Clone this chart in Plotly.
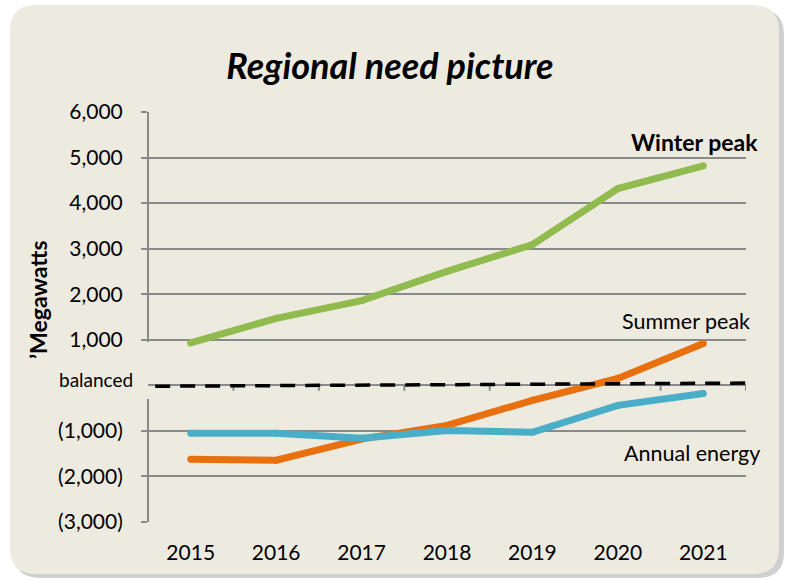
import plotly.graph_objects as go

years = ["2015", "2016", "2017", "2018", "2019", "2020", "2021"]
winter_peak = [930, 1470, 1860, 2500, 3090, 4320, 4820]
summer_peak = [-1620, -1645, -1180, -880, -330, 150, 920]
annual_energy = [-1050, -1050, -1160, -990, -1030, -440, -180]
y_tick_vals = [6000, 5000, 4000, 3000, 2000, 1000, -1000, -2000, -3000]
y_tick_text = ["6,000", "5,000", "4,000", "3,000", "2,000", "1,000",
               "(1,000)", "(2,000)", "(3,000)"]

W, H = 786, 580
L, R, T, B = 148, 40, 112, 58
PW, PH = W - L - R, H - T - B

def px(x, y):
    return (x - L) / PW, (H - B - y) / PH

def rounded_rect(x0, y0, x1, y1, r):
    a = px(x0 + r, y0); b = px(x1 - r, y0); c = px(x1, y0); d = px(x1, y0 + r)
    e = px(x1, y1 - r); f = px(x1, y1); g = px(x1 - r, y1); h = px(x0 + r, y1)
    i = px(x0, y1); j = px(x0, y1 - r); k = px(x0, y0 + r); l = px(x0, y0)
    return (f"M{a[0]},{a[1]} L{b[0]},{b[1]} Q{c[0]},{c[1]} {d[0]},{d[1]} "
            f"L{e[0]},{e[1]} Q{f[0]},{f[1]} {g[0]},{g[1]} L{h[0]},{h[1]} "
            f"Q{i[0]},{i[1]} {j[0]},{j[1]} L{k[0]},{k[1]} Q{l[0]},{l[1]} {a[0]},{a[1]} Z")

FONT = "Lato"
GRID = "#8a8a8a"

fig = go.Figure()
series = [
    ("Winter peak", winter_peak, "#92bb4f"),
    ("Summer peak", summer_peak, "#e8700f"),
    ("Annual energy", annual_energy, "#4aaec8"),
]
for name, vals, col in series:
    fig.add_trace(go.Scatter(
        x=years, y=vals, name=name, mode="lines+markers",
        line=dict(color=col, width=7),
        marker=dict(color=col, size=7, line=dict(width=0)),
        hoverinfo="x+y+name",
    ))

shapes = []
shapes.append(dict(type="path", xref="paper", yref="paper", layer="below",
                   path=rounded_rect(14, 9, 784, 578, 26),
                   fillcolor="rgba(120,120,120,0.35)", line=dict(width=0)))
shapes.append(dict(type="path", xref="paper", yref="paper", layer="below",
                   path=rounded_rect(10, 5, 779, 574, 26),
                   fillcolor="#edeae0", line=dict(width=0)))
shapes.append(dict(type="line", xref="paper", yref="y", x0=0, x1=0,
                   y0=6000, y1=950, line=dict(color=GRID, width=2), layer="between"))
shapes.append(dict(type="line", xref="paper", yref="y", x0=0, x1=0,
                   y0=-300, y1=-3000, line=dict(color=GRID, width=2), layer="between"))
for idx in range(len(years)):
    shapes.append(dict(type="line", xref="x", yref="y", x0=idx + 0.5, x1=idx + 0.5,
                       y0=0, y1=-120, line=dict(color=GRID, width=2), layer="between"))
shapes.append(dict(type="line", xref="paper", yref="y", x0=0.012, x1=1.007,
                   y0=-20, y1=50, line=dict(color="black", width=3.5, dash="15px,10px"),
                   layer="above"))

annotations = [
    dict(text="<b>Winter peak</b>", x=px(694, 0)[0], y=5350, xref="paper", yref="y",
         xanchor="center", yanchor="middle",
         showarrow=False, font=dict(family=FONT, size=23, color="black")),
    dict(text="Summer peak", x=px(686, 0)[0], y=1420, xref="paper", yref="y",
         xanchor="center", yanchor="middle",
         showarrow=False, font=dict(family=FONT, size=21.5, color="black")),
    dict(text="Annual energy", x=px(692, 0)[0], y=-1480, xref="paper", yref="y",
         xanchor="center", yanchor="middle",
         showarrow=False, font=dict(family=FONT, size=21.5, color="black")),
    dict(text="balanced", x=px(96, 0)[0], y=120, xref="paper", yref="y",
         xanchor="center", yanchor="middle",
         showarrow=False, font=dict(family=FONT, size=19, color="black")),
    dict(text="<b>’Megawatts</b>", x=px(38, 0)[0], y=px(0, 300)[1], xref="paper", yref="paper",
         xanchor="center", yanchor="middle",
         showarrow=False, textangle=-90, font=dict(family=FONT, size=23, color="black")),
]

fig.update_layout(
    width=W, height=H,
    margin=dict(l=L, r=R, t=T, b=B, pad=0),
    paper_bgcolor="white", plot_bgcolor="rgba(0,0,0,0)",
    showlegend=False,
    title=dict(text="<b><i>Regional need picture</i></b>", x=390 / W,
               xanchor="center", y=1 - 66 / H, yanchor="middle",
               font=dict(family=FONT, size=36, color="black")),
    font=dict(family=FONT, size=21, color="black"),
    shapes=shapes, annotations=annotations,
    xaxis=dict(type="category", showgrid=False, showline=False, zeroline=False,
               ticks="", tickfont=dict(size=21), ticklabelstandoff=16,
               range=[-0.5, len(years) - 0.5]),
    yaxis=dict(range=[-3000, 6000], tickvals=y_tick_vals, ticktext=y_tick_text,
               showgrid=True, gridcolor=GRID, gridwidth=2,
               zeroline=True, zerolinecolor=GRID, zerolinewidth=2,
               showline=False, ticks="outside", ticklen=6, tickwidth=2, tickcolor=GRID,
               tickfont=dict(size=21), ticklabelstandoff=14),
)

fig.write_html("out.html", config={"displayModeBar": False},
               post_script="document.body.style.margin='0';document.body.style.overflow='hidden';")
